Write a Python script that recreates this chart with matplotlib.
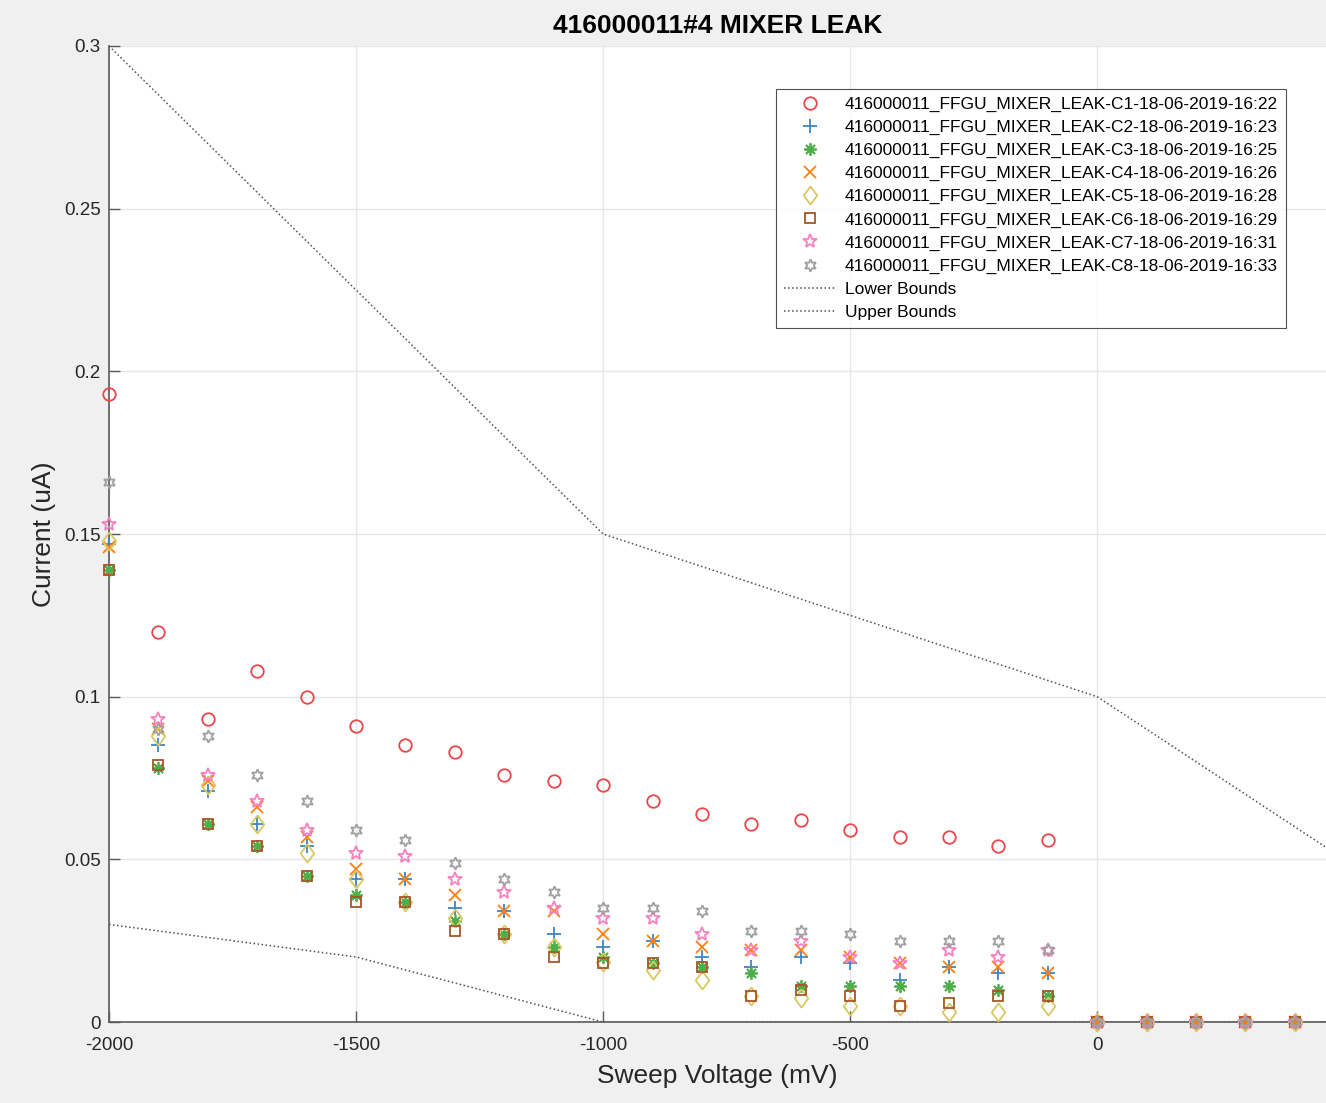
import matplotlib.pyplot as plt

plt.rcParams['font.family'] = ['Liberation Sans', 'DejaVu Sans']
plt.rcParams['axes.unicode_minus'] = False

# Sweep voltage (mV)
voltage = [-2000, -1900, -1800, -1700, -1600, -1500, -1400, -1300, -1200, -1100,
           -1000, -900, -800, -700, -600, -500, -400, -300, -200, -100,
           0, 100, 200, 300, 400]

# Current (uA) per channel
c1 = [0.193, 0.120, 0.093, 0.108, 0.100, 0.091, 0.085, 0.083, 0.076, 0.074,
      0.073, 0.068, 0.064, 0.061, 0.062, 0.059, 0.057, 0.057, 0.054, 0.056,
      0, 0, 0, 0, 0]
c2 = [0.147, 0.085, 0.071, 0.061, 0.054, 0.044, 0.044, 0.035, 0.034, 0.027,
      0.023, 0.025, 0.020, 0.017, 0.020, 0.018, 0.013, 0.017, 0.015, 0.015,
      0, 0, 0, 0, 0]
c3 = [0.139, 0.078, 0.061, 0.054, 0.045, 0.039, 0.037, 0.031, 0.027, 0.023,
      0.020, 0.018, 0.017, 0.015, 0.011, 0.011, 0.011, 0.011, 0.010, 0.008,
      0, 0, 0, 0, 0]
c4 = [0.146, 0.090, 0.074, 0.066, 0.057, 0.047, 0.044, 0.039, 0.034, 0.034,
      0.027, 0.025, 0.023, 0.022, 0.022, 0.020, 0.018, 0.017, 0.017, 0.015,
      0, 0, 0, 0, 0]
c5 = [0.148, 0.088, 0.073, 0.061, 0.052, 0.044, 0.037, 0.032, 0.027, 0.023,
      0.0185, 0.016, 0.013, 0.008, 0.0075, 0.005, 0.005, 0.003, 0.003, 0.005,
      0, 0, 0, 0, 0]
c6 = [0.139, 0.079, 0.061, 0.054, 0.045, 0.037, 0.037, 0.028, 0.027, 0.020,
      0.018, 0.018, 0.017, 0.008, 0.010, 0.008, 0.005, 0.006, 0.008, 0.008,
      0, 0, 0, 0, 0]
c7 = [0.153, 0.093, 0.076, 0.068, 0.059, 0.052, 0.051, 0.044, 0.040, 0.035,
      0.032, 0.032, 0.027, 0.022, 0.025, 0.020, 0.018, 0.022, 0.020, 0.022,
      0, 0, 0, 0, 0]
c8 = [0.166, 0.090, 0.088, 0.076, 0.068, 0.059, 0.056, 0.049, 0.044, 0.040,
      0.035, 0.035, 0.034, 0.028, 0.028, 0.027, 0.025, 0.025, 0.025, 0.022,
      0, 0, 0, 0, 0]

lower_x = [-2000, -1500, -1000, 0, 500]
lower_y = [0.03, 0.02, 0.0, 0.0, 0.0]
upper_x = [-2000, -1000, 0, 500]
upper_y = [0.3, 0.15, 0.1, 0.05]

labels = ["416000011_FFGU_MIXER_LEAK-C%d-18-06-2019-16:%s" % (i + 1, t)
          for i, t in enumerate(["22", "23", "25", "26", "28", "29", "31", "33"])]

series = [c1, c2, c3, c4, c5, c6, c7, c8]
colors = ["#E8474B", "#3F85C6", "#4DAF4A", "#FF7F0E", "#D8C862",
          "#A65628", "#F781BF", "#A0A0A0"]
diamond = [(0, 1), (0.75, 0), (0, -1), (-0.75, 0), (0, 1)]
markers = ["o", "+", (8, 2, 0), "x", diamond, "s", "*", (6, 1, 0)]
sizes = [9, 10, 9, 8, 13, 7.5, 10, 9]

fig = plt.figure(figsize=(13.26, 11.03), dpi=100, facecolor="#F0F0F0")
ax = fig.add_axes([0.0822, 0.0734, 0.9178, 0.8849])
ax.set_facecolor("white")

for ys, col, mk, ms, lab in zip(series, colors, markers, sizes, labels):
    filled = mk in ("+", "x", (8, 2, 0))
    ax.plot(voltage, ys, linestyle="none", marker=mk, markersize=ms,
            markeredgecolor=col, markerfacecolor=col if filled else "none",
            markeredgewidth=1.3, label=lab, clip_on=False, zorder=3)

ax.plot(lower_x, lower_y, linestyle=":", color="#505050", linewidth=1.1,
        label="Lower Bounds", zorder=2)
ax.plot(upper_x, upper_y, linestyle=":", color="#505050", linewidth=1.1,
        label="Upper Bounds", zorder=2)

ax.set_xlim(-2000, 463)
ax.set_ylim(0, 0.3)
ax.set_xticks([-2000, -1500, -1000, -500, 0])
ax.set_yticks([0, 0.05, 0.1, 0.15, 0.2, 0.25, 0.3])
ax.set_yticklabels(["0", "0.05", "0.1", "0.15", "0.2", "0.25", "0.3"])
ax.grid(True, color="#E6E6E6", linewidth=1.0)
ax.set_axisbelow(True)

for side in ("top", "right"):
    ax.spines[side].set_visible(False)
for side in ("left", "bottom"):
    ax.spines[side].set_color("#5A5A5A")
    ax.spines[side].set_linewidth(1.2)
ax.tick_params(direction="in", length=8, width=1, colors="#5A5A5A",
               labelcolor="#262626", labelsize=13.5)
ax.tick_params(axis="x", pad=11)
ax.tick_params(axis="y", pad=6)

ax.set_xlabel("Sweep Voltage (mV)", fontsize=19, color="#262626", labelpad=7)
ax.set_ylabel("Current (uA)", fontsize=19, color="#262626", labelpad=6)
ax.set_title("416000011#4 MIXER LEAK", fontsize=19, fontweight="bold", pad=9)

leg = ax.legend(loc="upper right", bbox_to_anchor=(0.967, 0.956), borderaxespad=0,
                fontsize=12.5, frameon=True, fancybox=False, edgecolor="#262626",
                handlelength=3.0, handletextpad=0.5, labelspacing=0.45,
                borderpad=0.45)
leg.get_frame().set_linewidth(0.8)

fig.savefig("out.png", dpi=100, facecolor=fig.get_facecolor())
